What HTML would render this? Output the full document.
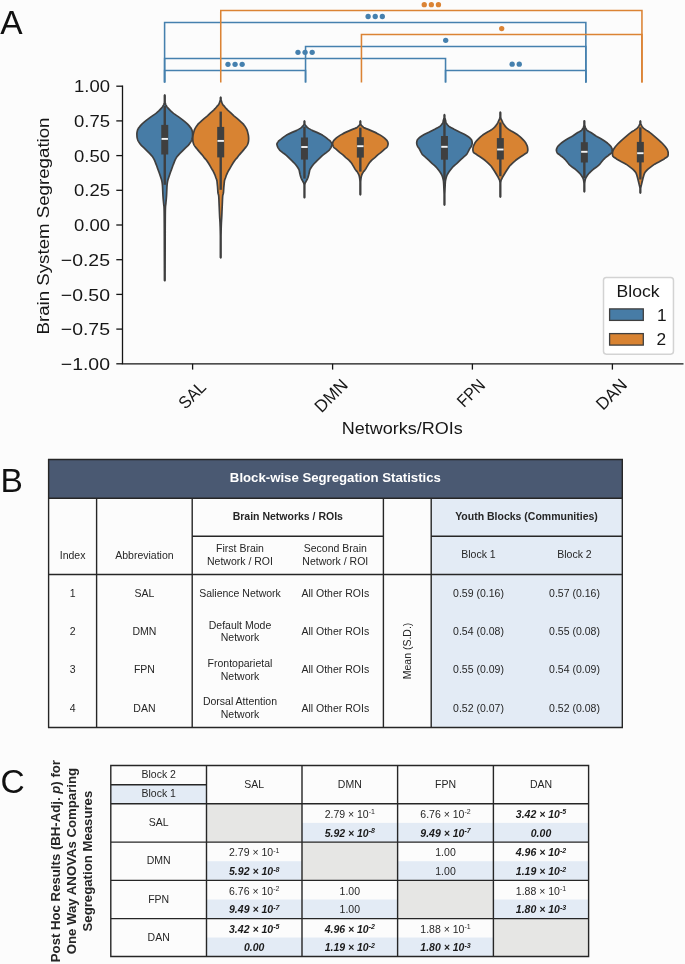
<!DOCTYPE html>
<html><head><meta charset="utf-8"><style>
html,body{margin:0;padding:0;background:#fcfcfc;}
svg{display:block;will-change:transform;}
text{font-family:"Liberation Sans",sans-serif;}
</style></head><body>
<svg width="685" height="964" viewBox="0 0 685 964" font-family="Liberation Sans, sans-serif">
<rect x="0" y="0" width="685" height="964" fill="#fcfcfc"/>
<text x="0.3" y="33.7" font-size="33.5" fill="#111">A</text>
<path d="M164.6,81.6 V22.5 H585.85 V81.6" fill="none" stroke="#4580ae" stroke-width="1.55" stroke-linejoin="miter" stroke-linecap="square"/>
<path d="M305.55,81.6 V46.5 H585.85 V81.6" fill="none" stroke="#4580ae" stroke-width="1.55" stroke-linejoin="miter" stroke-linecap="square"/>
<path d="M164.6,81.6 V58.4 H445.55 V81.6" fill="none" stroke="#4580ae" stroke-width="1.55" stroke-linejoin="miter" stroke-linecap="square"/>
<path d="M164.6,81.6 V70.4 H305.55 V81.6" fill="none" stroke="#4580ae" stroke-width="1.55" stroke-linejoin="miter" stroke-linecap="square"/>
<path d="M445.55,81.6 V70.4 H585.85 V81.6" fill="none" stroke="#4580ae" stroke-width="1.55" stroke-linejoin="miter" stroke-linecap="square"/>
<path d="M220.75,81.6 V10.5 H641.95 V81.6" fill="none" stroke="#db8334" stroke-width="1.55" stroke-linejoin="miter" stroke-linecap="square"/>
<path d="M361.45,81.6 V34.4 H641.95 V81.6" fill="none" stroke="#db8334" stroke-width="1.55" stroke-linejoin="miter" stroke-linecap="square"/>
<circle cx="368.12" cy="16.5" r="2.65" fill="#4580ae"/><circle cx="375.23" cy="16.5" r="2.65" fill="#4580ae"/><circle cx="382.33" cy="16.5" r="2.65" fill="#4580ae"/>
<circle cx="445.70" cy="40.3" r="2.65" fill="#4580ae"/>
<circle cx="297.97" cy="52.3" r="2.65" fill="#4580ae"/><circle cx="305.07" cy="52.3" r="2.65" fill="#4580ae"/><circle cx="312.18" cy="52.3" r="2.65" fill="#4580ae"/>
<circle cx="227.97" cy="64.3" r="2.65" fill="#4580ae"/><circle cx="235.07" cy="64.3" r="2.65" fill="#4580ae"/><circle cx="242.17" cy="64.3" r="2.65" fill="#4580ae"/>
<circle cx="512.15" cy="64.2" r="2.65" fill="#4580ae"/><circle cx="519.25" cy="64.2" r="2.65" fill="#4580ae"/>
<circle cx="424.25" cy="4.7" r="2.65" fill="#db8334"/><circle cx="431.35" cy="4.7" r="2.65" fill="#db8334"/><circle cx="438.45" cy="4.7" r="2.65" fill="#db8334"/>
<circle cx="501.70" cy="28.6" r="2.65" fill="#db8334"/>
<path d="M122.5,85.60000000000001 V364.4 M121.8,363.8 H683.5" fill="none" stroke="#151515" stroke-width="1.3"/>
<path d="M116.3,86.20 H122.5" stroke="#151515" stroke-width="1.3"/>
<text x="110.0" y="92.30" font-size="17.3" text-anchor="end" fill="#161616" textLength="36.0" lengthAdjust="spacingAndGlyphs">1.00</text>
<path d="M116.3,120.90 H122.5" stroke="#151515" stroke-width="1.3"/>
<text x="110.0" y="127.00" font-size="17.3" text-anchor="end" fill="#161616" textLength="36.0" lengthAdjust="spacingAndGlyphs">0.75</text>
<path d="M116.3,155.60 H122.5" stroke="#151515" stroke-width="1.3"/>
<text x="110.0" y="161.70" font-size="17.3" text-anchor="end" fill="#161616" textLength="36.0" lengthAdjust="spacingAndGlyphs">0.50</text>
<path d="M116.3,190.30 H122.5" stroke="#151515" stroke-width="1.3"/>
<text x="110.0" y="196.40" font-size="17.3" text-anchor="end" fill="#161616" textLength="36.0" lengthAdjust="spacingAndGlyphs">0.25</text>
<path d="M116.3,225.00 H122.5" stroke="#151515" stroke-width="1.3"/>
<text x="110.0" y="231.10" font-size="17.3" text-anchor="end" fill="#161616" textLength="36.0" lengthAdjust="spacingAndGlyphs">0.00</text>
<path d="M116.3,259.70 H122.5" stroke="#151515" stroke-width="1.3"/>
<text x="110.0" y="265.80" font-size="17.3" text-anchor="end" fill="#161616" textLength="49.2" lengthAdjust="spacingAndGlyphs">−0.25</text>
<path d="M116.3,294.40 H122.5" stroke="#151515" stroke-width="1.3"/>
<text x="110.0" y="300.50" font-size="17.3" text-anchor="end" fill="#161616" textLength="49.2" lengthAdjust="spacingAndGlyphs">−0.50</text>
<path d="M116.3,329.10 H122.5" stroke="#151515" stroke-width="1.3"/>
<text x="110.0" y="335.20" font-size="17.3" text-anchor="end" fill="#161616" textLength="49.2" lengthAdjust="spacingAndGlyphs">−0.75</text>
<path d="M116.3,363.80 H122.5" stroke="#151515" stroke-width="1.3"/>
<text x="110.0" y="369.90" font-size="17.3" text-anchor="end" fill="#161616" textLength="49.2" lengthAdjust="spacingAndGlyphs">−1.00</text>
<path d="M192.6,363.8 V369.6" stroke="#151515" stroke-width="1.3"/>
<path d="M332.6,363.8 V369.6" stroke="#151515" stroke-width="1.3"/>
<path d="M472.4,363.8 V369.6" stroke="#151515" stroke-width="1.3"/>
<path d="M612.4,363.8 V369.6" stroke="#151515" stroke-width="1.3"/>
<text x="0" y="0" font-size="17.3" text-anchor="middle" fill="#161616" transform="translate(192.1,394.9) rotate(-45) translate(0,5.95)" textLength="30.5" lengthAdjust="spacingAndGlyphs">SAL</text>
<text x="0" y="0" font-size="17.3" text-anchor="middle" fill="#161616" transform="translate(331.05,395.5) rotate(-45) translate(0,5.95)" textLength="38.7" lengthAdjust="spacingAndGlyphs">DMN</text>
<text x="0" y="0" font-size="17.3" text-anchor="middle" fill="#161616" transform="translate(470.85,393.0) rotate(-45) translate(0,5.95)" textLength="31.3" lengthAdjust="spacingAndGlyphs">FPN</text>
<text x="0" y="0" font-size="17.3" text-anchor="middle" fill="#161616" transform="translate(611.4,394.2) rotate(-45) translate(0,5.95)" textLength="35.8" lengthAdjust="spacingAndGlyphs">DAN</text>
<text x="402.2" y="434.4" font-size="17.3" text-anchor="middle" fill="#161616" textLength="121" lengthAdjust="spacingAndGlyphs">Networks/ROIs</text>
<text x="0" y="0" font-size="17.3" text-anchor="middle" fill="#161616" transform="translate(48.6,226.0) rotate(-90)" textLength="217" lengthAdjust="spacingAndGlyphs">Brain System Segregation</text>
<path d="M164.75,94.90 L164.45,95.40 L164.45,95.90 L164.45,96.40 L164.45,96.90 L164.45,97.40 L164.45,97.90 L164.45,98.40 L164.45,98.90 L164.45,99.40 L164.45,99.89 L164.45,100.39 L164.45,100.89 L164.45,101.39 L164.38,101.89 L164.31,102.39 L164.25,102.89 L164.17,103.39 L164.08,103.89 L163.91,104.39 L163.65,104.89 L163.33,105.39 L163.02,105.89 L162.70,106.39 L162.35,106.89 L161.97,107.39 L161.59,107.89 L161.17,108.39 L160.72,108.88 L160.26,109.38 L159.79,109.88 L159.30,110.38 L158.79,110.88 L158.25,111.38 L157.70,111.88 L157.13,112.38 L156.54,112.88 L155.92,113.38 L155.25,113.88 L154.54,114.38 L153.84,114.88 L153.13,115.38 L152.39,115.88 L151.64,116.38 L150.93,116.88 L150.24,117.38 L149.56,117.88 L148.89,118.37 L148.23,118.87 L147.56,119.37 L146.90,119.87 L146.26,120.37 L145.64,120.87 L145.02,121.37 L144.42,121.87 L143.85,122.37 L143.28,122.87 L142.71,123.37 L142.16,123.87 L141.65,124.37 L141.18,124.87 L140.74,125.37 L140.32,125.87 L139.92,126.37 L139.54,126.87 L139.15,127.37 L138.75,127.86 L138.39,128.36 L138.11,128.86 L137.87,129.36 L137.66,129.86 L137.47,130.36 L137.33,130.86 L137.22,131.36 L137.12,131.86 L137.03,132.36 L136.96,132.86 L136.91,133.36 L136.90,133.86 L136.90,134.36 L136.92,134.86 L136.93,135.36 L136.96,135.86 L136.98,136.36 L137.01,136.85 L137.08,137.35 L137.17,137.85 L137.29,138.35 L137.42,138.85 L137.56,139.35 L137.72,139.85 L137.93,140.35 L138.18,140.85 L138.44,141.35 L138.73,141.85 L139.03,142.35 L139.34,142.85 L139.69,143.35 L140.08,143.85 L140.49,144.35 L140.91,144.85 L141.35,145.35 L141.82,145.85 L142.35,146.34 L142.90,146.84 L143.45,147.34 L143.99,147.84 L144.51,148.34 L145.00,148.84 L145.50,149.34 L146.00,149.84 L146.49,150.34 L146.99,150.84 L147.49,151.34 L148.00,151.84 L148.52,152.34 L149.03,152.84 L149.54,153.34 L150.02,153.84 L150.47,154.34 L150.91,154.84 L151.35,155.33 L151.77,155.83 L152.17,156.33 L152.54,156.83 L152.88,157.33 L153.20,157.83 L153.50,158.33 L153.80,158.83 L154.07,159.33 L154.32,159.83 L154.56,160.33 L154.77,160.83 L154.97,161.33 L155.17,161.83 L155.35,162.33 L155.54,162.83 L155.73,163.33 L155.93,163.83 L156.12,164.33 L156.31,164.82 L156.50,165.32 L156.68,165.82 L156.86,166.32 L157.03,166.82 L157.20,167.32 L157.37,167.82 L157.54,168.32 L157.72,168.82 L157.90,169.32 L158.09,169.82 L158.28,170.32 L158.48,170.82 L158.67,171.32 L158.85,171.82 L159.03,172.32 L159.20,172.82 L159.38,173.32 L159.55,173.82 L159.72,174.31 L159.88,174.81 L160.05,175.31 L160.22,175.81 L160.39,176.31 L160.56,176.81 L160.72,177.31 L160.88,177.81 L161.05,178.31 L161.22,178.81 L161.39,179.31 L161.54,179.81 L161.68,180.31 L161.80,180.81 L161.91,181.31 L162.01,181.81 L162.10,182.31 L162.18,182.81 L162.25,183.30 L162.31,183.80 L162.36,184.30 L162.40,184.80 L162.44,185.30 L162.48,185.80 L162.51,186.30 L162.55,186.80 L162.57,187.30 L162.60,187.80 L162.62,188.30 L162.65,188.80 L162.67,189.30 L162.69,189.80 L162.71,190.30 L162.74,190.80 L162.76,191.30 L162.78,191.80 L162.80,192.30 L162.82,192.79 L162.85,193.29 L162.87,193.79 L162.90,194.29 L162.92,194.79 L162.95,195.29 L162.98,195.79 L163.02,196.29 L163.05,196.79 L163.09,197.29 L163.12,197.79 L163.16,198.29 L163.20,198.79 L163.24,199.29 L163.29,199.79 L163.33,200.29 L163.38,200.79 L163.43,201.29 L163.47,201.78 L163.52,202.28 L163.57,202.78 L163.62,203.28 L163.68,203.78 L163.74,204.28 L163.80,204.78 L163.86,205.28 L163.91,205.78 L163.96,206.28 L164.01,206.78 L164.04,207.28 L164.06,207.78 L164.08,208.28 L164.10,208.78 L164.12,209.28 L164.13,209.78 L164.15,210.28 L164.16,210.78 L164.17,211.27 L164.18,211.77 L164.19,212.27 L164.19,212.77 L164.20,213.27 L164.20,213.77 L164.21,214.27 L164.21,214.77 L164.22,215.27 L164.22,215.77 L164.23,216.27 L164.23,216.77 L164.24,217.27 L164.24,217.77 L164.24,218.27 L164.25,218.77 L164.25,219.27 L164.25,219.77 L164.26,220.27 L164.26,220.76 L164.26,221.26 L164.27,221.76 L164.27,222.26 L164.27,222.76 L164.28,223.26 L164.28,223.76 L164.28,224.26 L164.29,224.76 L164.29,225.26 L164.29,225.76 L164.29,226.26 L164.30,226.76 L164.30,227.26 L164.30,227.76 L164.30,228.26 L164.31,228.76 L164.31,229.26 L164.31,229.75 L164.31,230.25 L164.32,230.75 L164.32,231.25 L164.32,231.75 L164.32,232.25 L164.32,232.75 L164.32,233.25 L164.33,233.75 L164.33,234.25 L164.33,234.75 L164.33,235.25 L164.33,235.75 L164.33,236.25 L164.34,236.75 L164.34,237.25 L164.34,237.75 L164.34,238.25 L164.34,238.75 L164.34,239.24 L164.34,239.74 L164.34,240.24 L164.35,240.74 L164.35,241.24 L164.35,241.74 L164.35,242.24 L164.35,242.74 L164.35,243.24 L164.35,243.74 L164.35,244.24 L164.36,244.74 L164.36,245.24 L164.36,245.74 L164.36,246.24 L164.36,246.74 L164.36,247.24 L164.36,247.74 L164.36,248.23 L164.37,248.73 L164.37,249.23 L164.37,249.73 L164.37,250.23 L164.37,250.73 L164.37,251.23 L164.37,251.73 L164.37,252.23 L164.38,252.73 L164.38,253.23 L164.38,253.73 L164.38,254.23 L164.38,254.73 L164.38,255.23 L164.38,255.73 L164.39,256.23 L164.39,256.73 L164.39,257.23 L164.39,257.72 L164.39,258.22 L164.40,258.72 L164.40,259.22 L164.40,259.72 L164.40,260.22 L164.40,260.72 L164.40,261.22 L164.41,261.72 L164.41,262.22 L164.41,262.72 L164.41,263.22 L164.41,263.72 L164.41,264.22 L164.41,264.72 L164.42,265.22 L164.42,265.72 L164.42,266.22 L164.42,266.72 L164.42,267.21 L164.42,267.71 L164.42,268.21 L164.43,268.71 L164.43,269.21 L164.43,269.71 L164.43,270.21 L164.43,270.71 L164.44,271.21 L164.44,271.71 L164.44,272.21 L164.45,272.71 L164.45,273.21 L164.45,273.71 L164.45,274.21 L164.45,274.71 L164.45,275.21 L164.45,275.71 L164.45,276.20 L164.45,276.70 L164.45,277.20 L164.45,277.70 L164.45,278.20 L164.45,278.70 L164.45,279.20 L164.45,279.70 L164.45,280.20 L164.75,280.70 L164.75,280.70 L165.05,280.20 L165.05,279.70 L165.05,279.20 L165.05,278.70 L165.05,278.20 L165.05,277.70 L165.05,277.20 L165.05,276.70 L165.05,276.20 L165.05,275.71 L165.05,275.21 L165.05,274.71 L165.05,274.21 L165.05,273.71 L165.05,273.21 L165.05,272.71 L165.06,272.21 L165.06,271.71 L165.06,271.21 L165.07,270.71 L165.07,270.21 L165.07,269.71 L165.07,269.21 L165.07,268.71 L165.08,268.21 L165.08,267.71 L165.08,267.21 L165.08,266.72 L165.08,266.22 L165.08,265.72 L165.08,265.22 L165.09,264.72 L165.09,264.22 L165.09,263.72 L165.09,263.22 L165.09,262.72 L165.09,262.22 L165.09,261.72 L165.10,261.22 L165.10,260.72 L165.10,260.22 L165.10,259.72 L165.10,259.22 L165.10,258.72 L165.11,258.22 L165.11,257.72 L165.11,257.23 L165.11,256.73 L165.11,256.23 L165.12,255.73 L165.12,255.23 L165.12,254.73 L165.12,254.23 L165.12,253.73 L165.12,253.23 L165.12,252.73 L165.13,252.23 L165.13,251.73 L165.13,251.23 L165.13,250.73 L165.13,250.23 L165.13,249.73 L165.13,249.23 L165.13,248.73 L165.14,248.23 L165.14,247.74 L165.14,247.24 L165.14,246.74 L165.14,246.24 L165.14,245.74 L165.14,245.24 L165.14,244.74 L165.15,244.24 L165.15,243.74 L165.15,243.24 L165.15,242.74 L165.15,242.24 L165.15,241.74 L165.15,241.24 L165.15,240.74 L165.16,240.24 L165.16,239.74 L165.16,239.24 L165.16,238.75 L165.16,238.25 L165.16,237.75 L165.16,237.25 L165.16,236.75 L165.17,236.25 L165.17,235.75 L165.17,235.25 L165.17,234.75 L165.17,234.25 L165.17,233.75 L165.18,233.25 L165.18,232.75 L165.18,232.25 L165.18,231.75 L165.18,231.25 L165.18,230.75 L165.19,230.25 L165.19,229.75 L165.19,229.26 L165.19,228.76 L165.20,228.26 L165.20,227.76 L165.20,227.26 L165.20,226.76 L165.21,226.26 L165.21,225.76 L165.21,225.26 L165.21,224.76 L165.22,224.26 L165.22,223.76 L165.22,223.26 L165.23,222.76 L165.23,222.26 L165.23,221.76 L165.24,221.26 L165.24,220.76 L165.24,220.27 L165.25,219.77 L165.25,219.27 L165.25,218.77 L165.26,218.27 L165.26,217.77 L165.26,217.27 L165.27,216.77 L165.27,216.27 L165.28,215.77 L165.28,215.27 L165.29,214.77 L165.29,214.27 L165.30,213.77 L165.30,213.27 L165.31,212.77 L165.31,212.27 L165.32,211.77 L165.33,211.27 L165.34,210.78 L165.35,210.28 L165.37,209.78 L165.38,209.28 L165.40,208.78 L165.42,208.28 L165.44,207.78 L165.46,207.28 L165.49,206.78 L165.54,206.28 L165.59,205.78 L165.64,205.28 L165.70,204.78 L165.76,204.28 L165.82,203.78 L165.88,203.28 L165.93,202.78 L165.98,202.28 L166.03,201.78 L166.07,201.29 L166.12,200.79 L166.17,200.29 L166.21,199.79 L166.26,199.29 L166.30,198.79 L166.34,198.29 L166.38,197.79 L166.41,197.29 L166.45,196.79 L166.48,196.29 L166.52,195.79 L166.55,195.29 L166.58,194.79 L166.60,194.29 L166.63,193.79 L166.65,193.29 L166.68,192.79 L166.70,192.30 L166.72,191.80 L166.74,191.30 L166.76,190.80 L166.79,190.30 L166.81,189.80 L166.83,189.30 L166.85,188.80 L166.88,188.30 L166.90,187.80 L166.93,187.30 L166.95,186.80 L166.99,186.30 L167.02,185.80 L167.06,185.30 L167.10,184.80 L167.14,184.30 L167.19,183.80 L167.25,183.30 L167.32,182.81 L167.40,182.31 L167.49,181.81 L167.59,181.31 L167.70,180.81 L167.82,180.31 L167.96,179.81 L168.11,179.31 L168.28,178.81 L168.45,178.31 L168.62,177.81 L168.78,177.31 L168.94,176.81 L169.11,176.31 L169.28,175.81 L169.45,175.31 L169.62,174.81 L169.78,174.31 L169.95,173.82 L170.12,173.32 L170.30,172.82 L170.47,172.32 L170.65,171.82 L170.83,171.32 L171.02,170.82 L171.22,170.32 L171.41,169.82 L171.60,169.32 L171.78,168.82 L171.96,168.32 L172.13,167.82 L172.30,167.32 L172.47,166.82 L172.64,166.32 L172.82,165.82 L173.00,165.32 L173.19,164.82 L173.38,164.33 L173.57,163.83 L173.77,163.33 L173.96,162.83 L174.15,162.33 L174.33,161.83 L174.53,161.33 L174.73,160.83 L174.94,160.33 L175.18,159.83 L175.43,159.33 L175.70,158.83 L176.00,158.33 L176.30,157.83 L176.62,157.33 L176.96,156.83 L177.33,156.33 L177.73,155.83 L178.15,155.33 L178.59,154.84 L179.03,154.34 L179.48,153.84 L179.96,153.34 L180.47,152.84 L180.98,152.34 L181.50,151.84 L182.01,151.34 L182.51,150.84 L183.01,150.34 L183.50,149.84 L184.00,149.34 L184.50,148.84 L184.99,148.34 L185.51,147.84 L186.05,147.34 L186.60,146.84 L187.15,146.34 L187.68,145.85 L188.15,145.35 L188.59,144.85 L189.01,144.35 L189.42,143.85 L189.81,143.35 L190.16,142.85 L190.47,142.35 L190.77,141.85 L191.06,141.35 L191.32,140.85 L191.57,140.35 L191.78,139.85 L191.94,139.35 L192.08,138.85 L192.21,138.35 L192.33,137.85 L192.42,137.35 L192.49,136.85 L192.52,136.36 L192.54,135.86 L192.57,135.36 L192.58,134.86 L192.60,134.36 L192.60,133.86 L192.59,133.36 L192.54,132.86 L192.47,132.36 L192.38,131.86 L192.28,131.36 L192.17,130.86 L192.03,130.36 L191.84,129.86 L191.63,129.36 L191.39,128.86 L191.11,128.36 L190.75,127.86 L190.35,127.37 L189.96,126.87 L189.58,126.37 L189.18,125.87 L188.76,125.37 L188.32,124.87 L187.85,124.37 L187.34,123.87 L186.79,123.37 L186.22,122.87 L185.65,122.37 L185.08,121.87 L184.48,121.37 L183.86,120.87 L183.24,120.37 L182.60,119.87 L181.94,119.37 L181.27,118.87 L180.61,118.37 L179.94,117.88 L179.26,117.38 L178.57,116.88 L177.86,116.38 L177.11,115.88 L176.37,115.38 L175.66,114.88 L174.96,114.38 L174.25,113.88 L173.58,113.38 L172.96,112.88 L172.37,112.38 L171.80,111.88 L171.25,111.38 L170.71,110.88 L170.20,110.38 L169.71,109.88 L169.24,109.38 L168.78,108.88 L168.33,108.39 L167.91,107.89 L167.53,107.39 L167.15,106.89 L166.80,106.39 L166.48,105.89 L166.17,105.39 L165.85,104.89 L165.59,104.39 L165.42,103.89 L165.33,103.39 L165.25,102.89 L165.19,102.39 L165.12,101.89 L165.05,101.39 L165.05,100.89 L165.05,100.39 L165.05,99.89 L165.05,99.40 L165.05,98.90 L165.05,98.40 L165.05,97.90 L165.05,97.40 L165.05,96.90 L165.05,96.40 L165.05,95.90 L165.05,95.40 L164.75,94.90Z" fill="#477ca6" stroke="#3f3f3f" stroke-width="1.7" stroke-linejoin="round"/>
<path d="M220.70,97.20 L220.40,97.70 L220.40,98.20 L220.40,98.70 L220.40,99.20 L220.40,99.70 L220.36,100.19 L220.16,100.69 L219.96,101.19 L219.78,101.69 L219.61,102.19 L219.45,102.69 L219.27,103.19 L219.06,103.69 L218.84,104.19 L218.52,104.69 L218.14,105.19 L217.69,105.68 L217.22,106.18 L216.75,106.68 L216.32,107.18 L215.90,107.68 L215.47,108.18 L215.04,108.68 L214.59,109.18 L214.14,109.68 L213.65,110.18 L213.12,110.67 L212.57,111.17 L212.00,111.67 L211.42,112.17 L210.85,112.67 L210.31,113.17 L209.79,113.67 L209.27,114.17 L208.75,114.67 L208.23,115.17 L207.70,115.67 L207.14,116.16 L206.54,116.66 L205.92,117.16 L205.29,117.66 L204.67,118.16 L204.08,118.66 L203.50,119.16 L202.94,119.66 L202.38,120.16 L201.83,120.66 L201.29,121.16 L200.77,121.65 L200.22,122.15 L199.66,122.65 L199.10,123.15 L198.56,123.65 L198.06,124.15 L197.63,124.65 L197.24,125.15 L196.87,125.65 L196.53,126.15 L196.20,126.65 L195.90,127.14 L195.61,127.64 L195.32,128.14 L195.05,128.64 L194.79,129.14 L194.55,129.64 L194.35,130.14 L194.18,130.64 L194.03,131.14 L193.89,131.64 L193.76,132.13 L193.64,132.63 L193.52,133.13 L193.40,133.63 L193.28,134.13 L193.16,134.63 L193.06,135.13 L192.98,135.63 L192.92,136.13 L192.87,136.63 L192.83,137.13 L192.79,137.62 L192.76,138.12 L192.75,138.62 L192.76,139.12 L192.78,139.62 L192.81,140.12 L192.85,140.62 L192.90,141.12 L192.96,141.62 L193.05,142.12 L193.19,142.62 L193.36,143.11 L193.55,143.61 L193.74,144.11 L193.95,144.61 L194.19,145.11 L194.46,145.61 L194.76,146.11 L195.08,146.61 L195.46,147.11 L195.90,147.61 L196.35,148.10 L196.77,148.60 L197.16,149.10 L197.57,149.60 L197.99,150.10 L198.40,150.60 L198.82,151.10 L199.24,151.60 L199.68,152.10 L200.12,152.60 L200.56,153.10 L201.00,153.59 L201.42,154.09 L201.84,154.59 L202.23,155.09 L202.62,155.59 L203.01,156.09 L203.40,156.59 L203.79,157.09 L204.20,157.59 L204.63,158.09 L205.06,158.59 L205.48,159.08 L205.89,159.58 L206.29,160.08 L206.65,160.58 L207.00,161.08 L207.35,161.58 L207.68,162.08 L208.01,162.58 L208.34,163.08 L208.66,163.58 L208.98,164.08 L209.29,164.57 L209.60,165.07 L209.90,165.57 L210.19,166.07 L210.49,166.57 L210.77,167.07 L211.05,167.57 L211.32,168.07 L211.60,168.57 L211.89,169.07 L212.18,169.56 L212.49,170.06 L212.80,170.56 L213.10,171.06 L213.38,171.56 L213.64,172.06 L213.88,172.56 L214.11,173.06 L214.34,173.56 L214.56,174.06 L214.76,174.56 L214.96,175.05 L215.14,175.55 L215.31,176.05 L215.48,176.55 L215.64,177.05 L215.81,177.55 L215.98,178.05 L216.18,178.55 L216.38,179.05 L216.58,179.55 L216.75,180.05 L216.88,180.54 L216.97,181.04 L217.03,181.54 L217.08,182.04 L217.13,182.54 L217.17,183.04 L217.21,183.54 L217.26,184.04 L217.31,184.54 L217.37,185.04 L217.42,185.54 L217.47,186.03 L217.52,186.53 L217.56,187.03 L217.60,187.53 L217.64,188.03 L217.67,188.53 L217.70,189.03 L217.73,189.53 L217.77,190.03 L217.80,190.53 L217.83,191.02 L217.86,191.52 L217.89,192.02 L217.94,192.52 L218.01,193.02 L218.13,193.52 L218.27,194.02 L218.41,194.52 L218.55,195.02 L218.65,195.52 L218.70,196.02 L218.75,196.51 L218.78,197.01 L218.82,197.51 L218.85,198.01 L218.87,198.51 L218.90,199.01 L218.92,199.51 L218.94,200.01 L218.96,200.51 L218.98,201.01 L219.00,201.51 L219.02,202.00 L219.04,202.50 L219.06,203.00 L219.08,203.50 L219.11,204.00 L219.13,204.50 L219.15,205.00 L219.17,205.50 L219.19,206.00 L219.21,206.50 L219.24,207.00 L219.26,207.49 L219.28,207.99 L219.30,208.49 L219.32,208.99 L219.34,209.49 L219.36,209.99 L219.38,210.49 L219.41,210.99 L219.43,211.49 L219.45,211.99 L219.47,212.48 L219.49,212.98 L219.51,213.48 L219.53,213.98 L219.56,214.48 L219.58,214.98 L219.60,215.48 L219.63,215.98 L219.65,216.48 L219.68,216.98 L219.70,217.48 L219.73,217.97 L219.76,218.47 L219.80,218.97 L219.83,219.47 L219.86,219.97 L219.89,220.47 L219.92,220.97 L219.95,221.47 L219.98,221.97 L220.01,222.47 L220.03,222.97 L220.05,223.46 L220.07,223.96 L220.09,224.46 L220.11,224.96 L220.13,225.46 L220.15,225.96 L220.17,226.46 L220.19,226.96 L220.20,227.46 L220.22,227.96 L220.23,228.45 L220.25,228.95 L220.26,229.45 L220.27,229.95 L220.29,230.45 L220.30,230.95 L220.31,231.45 L220.32,231.95 L220.33,232.45 L220.34,232.95 L220.35,233.45 L220.36,233.94 L220.37,234.44 L220.38,234.94 L220.39,235.44 L220.39,235.94 L220.40,236.44 L220.40,236.94 L220.40,237.44 L220.40,237.94 L220.40,238.44 L220.40,238.94 L220.40,239.43 L220.40,239.93 L220.40,240.43 L220.40,240.93 L220.40,241.43 L220.40,241.93 L220.40,242.43 L220.40,242.93 L220.40,243.43 L220.40,243.93 L220.40,244.43 L220.40,244.92 L220.40,245.42 L220.40,245.92 L220.40,246.42 L220.40,246.92 L220.40,247.42 L220.40,247.92 L220.40,248.42 L220.40,248.92 L220.40,249.42 L220.40,249.91 L220.40,250.41 L220.40,250.91 L220.40,251.41 L220.40,251.91 L220.40,252.41 L220.40,252.91 L220.40,253.41 L220.40,253.91 L220.40,254.41 L220.40,254.91 L220.40,255.40 L220.40,255.90 L220.40,256.40 L220.40,256.90 L220.40,257.40 L220.70,257.90 L220.70,257.90 L221.00,257.40 L221.00,256.90 L221.00,256.40 L221.00,255.90 L221.00,255.40 L221.00,254.91 L221.00,254.41 L221.00,253.91 L221.00,253.41 L221.00,252.91 L221.00,252.41 L221.00,251.91 L221.00,251.41 L221.00,250.91 L221.00,250.41 L221.00,249.91 L221.00,249.42 L221.00,248.92 L221.00,248.42 L221.00,247.92 L221.00,247.42 L221.00,246.92 L221.00,246.42 L221.00,245.92 L221.00,245.42 L221.00,244.92 L221.00,244.43 L221.00,243.93 L221.00,243.43 L221.00,242.93 L221.00,242.43 L221.00,241.93 L221.00,241.43 L221.00,240.93 L221.00,240.43 L221.00,239.93 L221.00,239.43 L221.00,238.94 L221.00,238.44 L221.00,237.94 L221.00,237.44 L221.00,236.94 L221.00,236.44 L221.01,235.94 L221.01,235.44 L221.02,234.94 L221.03,234.44 L221.04,233.94 L221.05,233.45 L221.06,232.95 L221.07,232.45 L221.08,231.95 L221.09,231.45 L221.10,230.95 L221.11,230.45 L221.13,229.95 L221.14,229.45 L221.15,228.95 L221.17,228.45 L221.18,227.96 L221.20,227.46 L221.21,226.96 L221.23,226.46 L221.25,225.96 L221.27,225.46 L221.29,224.96 L221.31,224.46 L221.33,223.96 L221.35,223.46 L221.37,222.97 L221.39,222.47 L221.42,221.97 L221.45,221.47 L221.48,220.97 L221.51,220.47 L221.54,219.97 L221.57,219.47 L221.60,218.97 L221.64,218.47 L221.67,217.97 L221.70,217.48 L221.72,216.98 L221.75,216.48 L221.77,215.98 L221.80,215.48 L221.82,214.98 L221.84,214.48 L221.87,213.98 L221.89,213.48 L221.91,212.98 L221.93,212.48 L221.95,211.99 L221.97,211.49 L221.99,210.99 L222.02,210.49 L222.04,209.99 L222.06,209.49 L222.08,208.99 L222.10,208.49 L222.12,207.99 L222.14,207.49 L222.16,207.00 L222.19,206.50 L222.21,206.00 L222.23,205.50 L222.25,205.00 L222.27,204.50 L222.29,204.00 L222.32,203.50 L222.34,203.00 L222.36,202.50 L222.38,202.00 L222.40,201.51 L222.42,201.01 L222.44,200.51 L222.46,200.01 L222.48,199.51 L222.50,199.01 L222.53,198.51 L222.55,198.01 L222.58,197.51 L222.62,197.01 L222.65,196.51 L222.70,196.02 L222.75,195.52 L222.85,195.02 L222.99,194.52 L223.13,194.02 L223.27,193.52 L223.39,193.02 L223.46,192.52 L223.51,192.02 L223.54,191.52 L223.57,191.02 L223.60,190.53 L223.63,190.03 L223.67,189.53 L223.70,189.03 L223.73,188.53 L223.76,188.03 L223.80,187.53 L223.84,187.03 L223.88,186.53 L223.93,186.03 L223.98,185.54 L224.03,185.04 L224.09,184.54 L224.14,184.04 L224.19,183.54 L224.23,183.04 L224.27,182.54 L224.32,182.04 L224.37,181.54 L224.43,181.04 L224.52,180.54 L224.65,180.05 L224.82,179.55 L225.02,179.05 L225.22,178.55 L225.42,178.05 L225.59,177.55 L225.76,177.05 L225.92,176.55 L226.09,176.05 L226.26,175.55 L226.44,175.05 L226.64,174.56 L226.84,174.06 L227.06,173.56 L227.29,173.06 L227.52,172.56 L227.76,172.06 L228.02,171.56 L228.30,171.06 L228.60,170.56 L228.91,170.06 L229.22,169.56 L229.51,169.07 L229.80,168.57 L230.08,168.07 L230.35,167.57 L230.63,167.07 L230.91,166.57 L231.21,166.07 L231.50,165.57 L231.80,165.07 L232.11,164.57 L232.42,164.08 L232.74,163.58 L233.06,163.08 L233.39,162.58 L233.72,162.08 L234.05,161.58 L234.40,161.08 L234.75,160.58 L235.11,160.08 L235.51,159.58 L235.92,159.08 L236.34,158.59 L236.77,158.09 L237.20,157.59 L237.61,157.09 L238.00,156.59 L238.39,156.09 L238.78,155.59 L239.17,155.09 L239.56,154.59 L239.98,154.09 L240.40,153.59 L240.84,153.10 L241.28,152.60 L241.72,152.10 L242.16,151.60 L242.58,151.10 L243.00,150.60 L243.41,150.10 L243.83,149.60 L244.24,149.10 L244.63,148.60 L245.05,148.10 L245.50,147.61 L245.94,147.11 L246.32,146.61 L246.64,146.11 L246.94,145.61 L247.21,145.11 L247.45,144.61 L247.66,144.11 L247.85,143.61 L248.04,143.11 L248.21,142.62 L248.35,142.12 L248.44,141.62 L248.50,141.12 L248.55,140.62 L248.59,140.12 L248.62,139.62 L248.64,139.12 L248.65,138.62 L248.64,138.12 L248.61,137.62 L248.57,137.13 L248.53,136.63 L248.48,136.13 L248.42,135.63 L248.34,135.13 L248.24,134.63 L248.12,134.13 L248.00,133.63 L247.88,133.13 L247.76,132.63 L247.64,132.13 L247.51,131.64 L247.37,131.14 L247.22,130.64 L247.05,130.14 L246.85,129.64 L246.61,129.14 L246.35,128.64 L246.08,128.14 L245.79,127.64 L245.50,127.14 L245.20,126.65 L244.87,126.15 L244.53,125.65 L244.16,125.15 L243.77,124.65 L243.34,124.15 L242.84,123.65 L242.30,123.15 L241.74,122.65 L241.18,122.15 L240.63,121.65 L240.11,121.16 L239.57,120.66 L239.02,120.16 L238.46,119.66 L237.90,119.16 L237.32,118.66 L236.73,118.16 L236.11,117.66 L235.48,117.16 L234.86,116.66 L234.26,116.16 L233.70,115.67 L233.17,115.17 L232.65,114.67 L232.13,114.17 L231.61,113.67 L231.09,113.17 L230.55,112.67 L229.98,112.17 L229.40,111.67 L228.83,111.17 L228.28,110.67 L227.75,110.18 L227.26,109.68 L226.81,109.18 L226.36,108.68 L225.93,108.18 L225.50,107.68 L225.08,107.18 L224.65,106.68 L224.18,106.18 L223.71,105.68 L223.26,105.19 L222.88,104.69 L222.56,104.19 L222.34,103.69 L222.13,103.19 L221.95,102.69 L221.79,102.19 L221.62,101.69 L221.44,101.19 L221.24,100.69 L221.04,100.19 L221.00,99.70 L221.00,99.20 L221.00,98.70 L221.00,98.20 L221.00,97.70 L220.70,97.20Z" fill="#d88332" stroke="#3f3f3f" stroke-width="1.7" stroke-linejoin="round"/>
<path d="M304.45,120.90 L304.15,121.40 L304.15,121.90 L304.15,122.40 L304.15,122.89 L304.15,123.39 L304.15,123.89 L303.91,124.39 L303.61,124.89 L303.27,125.39 L302.90,125.89 L302.48,126.39 L302.05,126.88 L301.57,127.38 L300.95,127.88 L300.21,128.38 L299.38,128.88 L298.47,129.38 L297.63,129.88 L296.72,130.38 L295.66,130.87 L294.50,131.37 L293.29,131.87 L292.06,132.37 L291.00,132.87 L289.99,133.37 L288.99,133.87 L288.02,134.36 L287.08,134.86 L286.18,135.36 L285.36,135.86 L284.60,136.36 L283.88,136.86 L283.21,137.36 L282.56,137.86 L281.94,138.35 L281.36,138.85 L280.72,139.35 L280.07,139.85 L279.42,140.35 L278.82,140.85 L278.33,141.35 L278.01,141.85 L277.68,142.34 L277.37,142.84 L277.11,143.34 L276.94,143.84 L276.90,144.34 L276.97,144.84 L277.10,145.34 L277.27,145.84 L277.47,146.33 L277.66,146.83 L277.86,147.33 L278.11,147.83 L278.41,148.33 L278.73,148.83 L279.09,149.33 L279.48,149.82 L279.95,150.32 L280.51,150.82 L281.12,151.32 L281.74,151.82 L282.36,152.32 L282.96,152.82 L283.61,153.32 L284.31,153.81 L285.01,154.31 L285.68,154.81 L286.31,155.31 L286.87,155.81 L287.40,156.31 L287.92,156.81 L288.43,157.31 L288.94,157.80 L289.45,158.30 L289.98,158.80 L290.51,159.30 L291.04,159.80 L291.55,160.30 L292.06,160.80 L292.55,161.29 L293.03,161.79 L293.51,162.29 L293.99,162.79 L294.44,163.29 L294.89,163.79 L295.31,164.29 L295.71,164.79 L296.12,165.28 L296.51,165.78 L296.89,166.28 L297.24,166.78 L297.56,167.28 L297.88,167.78 L298.20,168.28 L298.50,168.78 L298.78,169.27 L299.00,169.77 L299.18,170.27 L299.31,170.77 L299.42,171.27 L299.51,171.77 L299.61,172.27 L299.71,172.76 L299.82,173.26 L299.93,173.76 L300.05,174.26 L300.16,174.76 L300.29,175.26 L300.42,175.76 L300.56,176.26 L300.70,176.75 L300.85,177.25 L301.02,177.75 L301.20,178.25 L301.43,178.75 L301.69,179.25 L301.98,179.75 L302.26,180.25 L302.53,180.74 L302.77,181.24 L303.04,181.74 L303.32,182.24 L303.57,182.74 L303.78,183.24 L303.93,183.74 L304.01,184.24 L304.08,184.73 L304.13,185.23 L304.15,185.73 L304.15,186.23 L304.15,186.73 L304.15,187.23 L304.15,187.73 L304.15,188.22 L304.15,188.72 L304.15,189.22 L304.15,189.72 L304.15,190.22 L304.15,190.72 L304.15,191.22 L304.15,191.72 L304.15,192.21 L304.15,192.71 L304.15,193.21 L304.15,193.71 L304.15,194.21 L304.15,194.71 L304.15,195.21 L304.15,195.71 L304.15,196.20 L304.15,196.70 L304.15,197.20 L304.45,197.70 L304.45,197.70 L304.75,197.20 L304.75,196.70 L304.75,196.20 L304.75,195.71 L304.75,195.21 L304.75,194.71 L304.75,194.21 L304.75,193.71 L304.75,193.21 L304.75,192.71 L304.75,192.21 L304.75,191.72 L304.75,191.22 L304.75,190.72 L304.75,190.22 L304.75,189.72 L304.75,189.22 L304.75,188.72 L304.75,188.22 L304.75,187.73 L304.75,187.23 L304.75,186.73 L304.75,186.23 L304.75,185.73 L304.77,185.23 L304.82,184.73 L304.89,184.24 L304.97,183.74 L305.12,183.24 L305.33,182.74 L305.58,182.24 L305.86,181.74 L306.13,181.24 L306.37,180.74 L306.64,180.25 L306.92,179.75 L307.21,179.25 L307.47,178.75 L307.70,178.25 L307.88,177.75 L308.05,177.25 L308.20,176.75 L308.34,176.26 L308.48,175.76 L308.61,175.26 L308.74,174.76 L308.85,174.26 L308.97,173.76 L309.08,173.26 L309.19,172.76 L309.29,172.27 L309.39,171.77 L309.48,171.27 L309.59,170.77 L309.72,170.27 L309.90,169.77 L310.12,169.27 L310.40,168.78 L310.70,168.28 L311.02,167.78 L311.34,167.28 L311.66,166.78 L312.01,166.28 L312.39,165.78 L312.78,165.28 L313.19,164.79 L313.59,164.29 L314.01,163.79 L314.46,163.29 L314.91,162.79 L315.39,162.29 L315.87,161.79 L316.35,161.29 L316.84,160.80 L317.35,160.30 L317.86,159.80 L318.39,159.30 L318.92,158.80 L319.45,158.30 L319.96,157.80 L320.47,157.31 L320.98,156.81 L321.50,156.31 L322.03,155.81 L322.59,155.31 L323.22,154.81 L323.89,154.31 L324.59,153.81 L325.29,153.32 L325.94,152.82 L326.54,152.32 L327.16,151.82 L327.78,151.32 L328.39,150.82 L328.95,150.32 L329.42,149.82 L329.81,149.33 L330.17,148.83 L330.49,148.33 L330.79,147.83 L331.04,147.33 L331.24,146.83 L331.43,146.33 L331.63,145.84 L331.80,145.34 L331.93,144.84 L332.00,144.34 L331.96,143.84 L331.79,143.34 L331.53,142.84 L331.22,142.34 L330.89,141.85 L330.57,141.35 L330.08,140.85 L329.48,140.35 L328.83,139.85 L328.18,139.35 L327.54,138.85 L326.96,138.35 L326.34,137.86 L325.69,137.36 L325.02,136.86 L324.30,136.36 L323.54,135.86 L322.72,135.36 L321.82,134.86 L320.88,134.36 L319.91,133.87 L318.91,133.37 L317.90,132.87 L316.84,132.37 L315.61,131.87 L314.40,131.37 L313.24,130.87 L312.18,130.38 L311.27,129.88 L310.43,129.38 L309.52,128.88 L308.69,128.38 L307.95,127.88 L307.33,127.38 L306.85,126.88 L306.42,126.39 L306.00,125.89 L305.63,125.39 L305.29,124.89 L304.99,124.39 L304.75,123.89 L304.75,123.39 L304.75,122.89 L304.75,122.40 L304.75,121.90 L304.75,121.40 L304.45,120.90Z" fill="#477ca6" stroke="#3f3f3f" stroke-width="1.7" stroke-linejoin="round"/>
<path d="M360.34,120.90 L360.04,121.40 L360.04,121.90 L360.04,122.40 L360.04,122.90 L360.04,123.40 L360.04,123.90 L359.97,124.40 L359.64,124.89 L359.23,125.39 L358.74,125.89 L358.18,126.39 L357.66,126.89 L357.08,127.39 L356.19,127.89 L355.09,128.39 L353.82,128.89 L352.48,129.39 L351.30,129.89 L350.18,130.39 L349.03,130.89 L347.85,131.39 L346.69,131.89 L345.55,132.38 L344.52,132.88 L343.55,133.38 L342.60,133.88 L341.68,134.38 L340.81,134.88 L339.98,135.38 L339.23,135.88 L338.49,136.38 L337.78,136.88 L337.09,137.38 L336.45,137.88 L335.85,138.38 L335.36,138.88 L334.86,139.38 L334.37,139.87 L333.91,140.37 L333.52,140.87 L333.22,141.37 L333.03,141.87 L332.84,142.37 L332.69,142.87 L332.60,143.37 L332.60,143.87 L332.65,144.37 L332.75,144.87 L332.89,145.37 L333.06,145.87 L333.25,146.37 L333.46,146.86 L333.79,147.36 L334.36,147.86 L335.03,148.36 L335.71,148.86 L336.35,149.36 L336.88,149.86 L337.40,150.36 L337.95,150.86 L338.52,151.36 L339.09,151.86 L339.68,152.36 L340.29,152.86 L340.95,153.36 L341.63,153.86 L342.30,154.35 L342.93,154.85 L343.50,155.35 L344.02,155.85 L344.53,156.35 L345.05,156.85 L345.58,157.35 L346.15,157.85 L346.77,158.35 L347.39,158.85 L348.01,159.35 L348.59,159.85 L349.13,160.35 L349.61,160.85 L350.03,161.35 L350.45,161.84 L350.84,162.34 L351.22,162.84 L351.58,163.34 L351.93,163.84 L352.27,164.34 L352.58,164.84 L352.88,165.34 L353.18,165.84 L353.47,166.34 L353.77,166.84 L354.07,167.34 L354.34,167.84 L354.62,168.34 L354.90,168.84 L355.21,169.33 L355.55,169.83 L355.96,170.33 L356.41,170.83 L356.85,171.33 L357.25,171.83 L357.56,172.33 L357.85,172.83 L358.14,173.33 L358.41,173.83 L358.64,174.33 L358.85,174.83 L359.01,175.33 L359.16,175.83 L359.29,176.32 L359.41,176.82 L359.52,177.32 L359.61,177.82 L359.69,178.32 L359.75,178.82 L359.81,179.32 L359.87,179.82 L359.92,180.32 L359.96,180.82 L359.99,181.32 L360.02,181.82 L360.04,182.32 L360.04,182.82 L360.04,183.32 L360.04,183.81 L360.04,184.31 L360.04,184.81 L360.04,185.31 L360.04,185.81 L360.04,186.31 L360.04,186.81 L360.04,187.31 L360.04,187.81 L360.04,188.31 L360.04,188.81 L360.04,189.31 L360.04,189.81 L360.04,190.31 L360.04,190.81 L360.04,191.30 L360.04,191.80 L360.04,192.30 L360.04,192.80 L360.04,193.30 L360.04,193.80 L360.04,194.30 L360.34,194.80 L360.34,194.80 L360.64,194.30 L360.64,193.80 L360.64,193.30 L360.64,192.80 L360.64,192.30 L360.64,191.80 L360.64,191.30 L360.64,190.81 L360.64,190.31 L360.64,189.81 L360.64,189.31 L360.64,188.81 L360.64,188.31 L360.64,187.81 L360.64,187.31 L360.64,186.81 L360.64,186.31 L360.64,185.81 L360.64,185.31 L360.64,184.81 L360.64,184.31 L360.64,183.81 L360.64,183.32 L360.64,182.82 L360.64,182.32 L360.66,181.82 L360.69,181.32 L360.72,180.82 L360.76,180.32 L360.81,179.82 L360.87,179.32 L360.93,178.82 L360.99,178.32 L361.07,177.82 L361.16,177.32 L361.27,176.82 L361.39,176.32 L361.52,175.83 L361.67,175.33 L361.83,174.83 L362.04,174.33 L362.27,173.83 L362.54,173.33 L362.83,172.83 L363.12,172.33 L363.43,171.83 L363.83,171.33 L364.27,170.83 L364.72,170.33 L365.13,169.83 L365.47,169.33 L365.78,168.84 L366.06,168.34 L366.34,167.84 L366.61,167.34 L366.91,166.84 L367.21,166.34 L367.50,165.84 L367.80,165.34 L368.10,164.84 L368.41,164.34 L368.75,163.84 L369.10,163.34 L369.46,162.84 L369.84,162.34 L370.23,161.84 L370.65,161.35 L371.07,160.85 L371.55,160.35 L372.09,159.85 L372.67,159.35 L373.29,158.85 L373.91,158.35 L374.53,157.85 L375.10,157.35 L375.63,156.85 L376.15,156.35 L376.66,155.85 L377.18,155.35 L377.75,154.85 L378.38,154.35 L379.05,153.86 L379.73,153.36 L380.39,152.86 L381.00,152.36 L381.59,151.86 L382.16,151.36 L382.73,150.86 L383.28,150.36 L383.80,149.86 L384.33,149.36 L384.97,148.86 L385.65,148.36 L386.32,147.86 L386.89,147.36 L387.22,146.86 L387.43,146.37 L387.62,145.87 L387.79,145.37 L387.93,144.87 L388.03,144.37 L388.08,143.87 L388.08,143.37 L387.99,142.87 L387.84,142.37 L387.65,141.87 L387.46,141.37 L387.16,140.87 L386.77,140.37 L386.31,139.87 L385.82,139.38 L385.32,138.88 L384.83,138.38 L384.23,137.88 L383.59,137.38 L382.90,136.88 L382.19,136.38 L381.45,135.88 L380.70,135.38 L379.87,134.88 L379.00,134.38 L378.08,133.88 L377.13,133.38 L376.16,132.88 L375.13,132.38 L373.99,131.89 L372.83,131.39 L371.65,130.89 L370.50,130.39 L369.38,129.89 L368.20,129.39 L366.86,128.89 L365.59,128.39 L364.49,127.89 L363.60,127.39 L363.02,126.89 L362.50,126.39 L361.94,125.89 L361.45,125.39 L361.04,124.89 L360.71,124.40 L360.64,123.90 L360.64,123.40 L360.64,122.90 L360.64,122.40 L360.64,121.90 L360.64,121.40 L360.34,120.90Z" fill="#d88332" stroke="#3f3f3f" stroke-width="1.7" stroke-linejoin="round"/>
<path d="M444.45,114.60 L444.15,115.10 L444.15,115.59 L444.15,116.09 L444.15,116.59 L444.15,117.09 L444.15,117.58 L444.12,118.08 L443.95,118.58 L443.79,119.08 L443.63,119.57 L443.47,120.07 L443.34,120.57 L443.22,121.06 L443.09,121.56 L442.95,122.06 L442.79,122.56 L442.60,123.05 L442.34,123.55 L442.02,124.05 L441.62,124.55 L441.18,125.04 L440.69,125.54 L440.25,126.04 L439.64,126.53 L438.87,127.03 L438.00,127.53 L437.05,128.03 L436.10,128.52 L435.23,129.02 L434.30,129.52 L433.34,130.01 L432.35,130.51 L431.34,131.01 L430.35,131.51 L429.39,132.00 L428.35,132.50 L427.28,133.00 L426.19,133.50 L425.13,133.99 L424.17,134.49 L423.32,134.99 L422.50,135.48 L421.71,135.98 L420.96,136.48 L420.27,136.98 L419.70,137.47 L419.16,137.97 L418.62,138.47 L418.10,138.97 L417.64,139.46 L417.30,139.96 L417.13,140.46 L417.00,140.95 L416.88,141.45 L416.79,141.95 L416.73,142.45 L416.70,142.94 L416.73,143.44 L416.81,143.94 L416.93,144.44 L417.09,144.93 L417.25,145.43 L417.42,145.93 L417.68,146.42 L418.02,146.92 L418.39,147.42 L418.75,147.92 L419.07,148.41 L419.33,148.91 L419.59,149.41 L419.83,149.90 L420.08,150.40 L420.33,150.90 L420.59,151.40 L420.87,151.89 L421.13,152.39 L421.39,152.89 L421.68,153.39 L421.99,153.88 L422.35,154.38 L422.79,154.88 L423.32,155.37 L423.90,155.87 L424.50,156.37 L425.09,156.87 L425.65,157.36 L426.17,157.86 L426.73,158.36 L427.29,158.86 L427.84,159.35 L428.39,159.85 L428.93,160.35 L429.44,160.84 L429.94,161.34 L430.44,161.84 L430.95,162.34 L431.46,162.83 L432.00,163.33 L432.57,163.83 L433.17,164.33 L433.76,164.82 L434.34,165.32 L434.89,165.82 L435.40,166.31 L435.85,166.81 L436.29,167.31 L436.71,167.81 L437.12,168.30 L437.52,168.80 L437.92,169.30 L438.32,169.80 L438.72,170.29 L439.10,170.79 L439.48,171.29 L439.83,171.78 L440.17,172.28 L440.49,172.78 L440.81,173.28 L441.11,173.77 L441.40,174.27 L441.66,174.77 L441.88,175.26 L442.08,175.76 L442.27,176.26 L442.45,176.76 L442.61,177.25 L442.76,177.75 L442.89,178.25 L443.01,178.75 L443.13,179.24 L443.24,179.74 L443.34,180.24 L443.42,180.73 L443.49,181.23 L443.53,181.73 L443.58,182.23 L443.61,182.72 L443.65,183.22 L443.68,183.72 L443.71,184.22 L443.73,184.71 L443.76,185.21 L443.78,185.71 L443.80,186.20 L443.83,186.70 L443.85,187.20 L443.88,187.70 L443.90,188.19 L443.92,188.69 L443.94,189.19 L443.96,189.69 L443.98,190.18 L444.00,190.68 L444.02,191.18 L444.04,191.67 L444.06,192.17 L444.09,192.67 L444.11,193.17 L444.13,193.66 L444.15,194.16 L444.15,194.66 L444.15,195.15 L444.15,195.65 L444.15,196.15 L444.15,196.65 L444.15,197.14 L444.15,197.64 L444.15,198.14 L444.15,198.64 L444.15,199.13 L444.15,199.63 L444.15,200.13 L444.15,200.62 L444.15,201.12 L444.15,201.62 L444.15,202.12 L444.15,202.61 L444.15,203.11 L444.15,203.61 L444.15,204.11 L444.15,204.60 L444.45,205.10 L444.45,205.10 L444.75,204.60 L444.75,204.11 L444.75,203.61 L444.75,203.11 L444.75,202.61 L444.75,202.12 L444.75,201.62 L444.75,201.12 L444.75,200.62 L444.75,200.13 L444.75,199.63 L444.75,199.13 L444.75,198.64 L444.75,198.14 L444.75,197.64 L444.75,197.14 L444.75,196.65 L444.75,196.15 L444.75,195.65 L444.75,195.15 L444.75,194.66 L444.75,194.16 L444.77,193.66 L444.79,193.17 L444.81,192.67 L444.84,192.17 L444.86,191.67 L444.88,191.18 L444.90,190.68 L444.92,190.18 L444.94,189.69 L444.96,189.19 L444.98,188.69 L445.00,188.19 L445.02,187.70 L445.05,187.20 L445.07,186.70 L445.10,186.20 L445.12,185.71 L445.14,185.21 L445.17,184.71 L445.19,184.22 L445.22,183.72 L445.25,183.22 L445.29,182.72 L445.32,182.23 L445.37,181.73 L445.41,181.23 L445.48,180.73 L445.56,180.24 L445.66,179.74 L445.77,179.24 L445.89,178.75 L446.01,178.25 L446.14,177.75 L446.29,177.25 L446.45,176.76 L446.63,176.26 L446.82,175.76 L447.02,175.26 L447.24,174.77 L447.50,174.27 L447.79,173.77 L448.09,173.28 L448.41,172.78 L448.73,172.28 L449.07,171.78 L449.42,171.29 L449.80,170.79 L450.18,170.29 L450.58,169.80 L450.98,169.30 L451.38,168.80 L451.78,168.30 L452.19,167.81 L452.61,167.31 L453.05,166.81 L453.50,166.31 L454.01,165.82 L454.56,165.32 L455.14,164.82 L455.73,164.33 L456.33,163.83 L456.90,163.33 L457.44,162.83 L457.95,162.34 L458.46,161.84 L458.96,161.34 L459.46,160.84 L459.97,160.35 L460.51,159.85 L461.06,159.35 L461.61,158.86 L462.17,158.36 L462.73,157.86 L463.25,157.36 L463.81,156.87 L464.40,156.37 L465.00,155.87 L465.58,155.37 L466.11,154.88 L466.55,154.38 L466.91,153.88 L467.22,153.39 L467.51,152.89 L467.77,152.39 L468.03,151.89 L468.31,151.40 L468.57,150.90 L468.82,150.40 L469.07,149.90 L469.31,149.41 L469.57,148.91 L469.83,148.41 L470.15,147.92 L470.51,147.42 L470.88,146.92 L471.22,146.42 L471.48,145.93 L471.65,145.43 L471.81,144.93 L471.97,144.44 L472.09,143.94 L472.17,143.44 L472.20,142.94 L472.17,142.45 L472.11,141.95 L472.02,141.45 L471.90,140.95 L471.77,140.46 L471.60,139.96 L471.26,139.46 L470.80,138.97 L470.28,138.47 L469.74,137.97 L469.20,137.47 L468.63,136.98 L467.94,136.48 L467.19,135.98 L466.40,135.48 L465.58,134.99 L464.73,134.49 L463.77,133.99 L462.71,133.50 L461.62,133.00 L460.55,132.50 L459.51,132.00 L458.55,131.51 L457.56,131.01 L456.55,130.51 L455.56,130.01 L454.60,129.52 L453.67,129.02 L452.80,128.52 L451.85,128.03 L450.90,127.53 L450.03,127.03 L449.26,126.53 L448.65,126.04 L448.21,125.54 L447.72,125.04 L447.28,124.55 L446.88,124.05 L446.56,123.55 L446.30,123.05 L446.11,122.56 L445.95,122.06 L445.81,121.56 L445.68,121.06 L445.56,120.57 L445.43,120.07 L445.27,119.57 L445.11,119.08 L444.95,118.58 L444.78,118.08 L444.75,117.58 L444.75,117.09 L444.75,116.59 L444.75,116.09 L444.75,115.59 L444.75,115.10 L444.45,114.60Z" fill="#477ca6" stroke="#3f3f3f" stroke-width="1.7" stroke-linejoin="round"/>
<path d="M500.34,112.10 L500.04,112.60 L500.04,113.10 L500.04,113.60 L500.04,114.10 L500.04,114.60 L500.04,115.10 L500.04,115.60 L500.04,116.10 L500.04,116.59 L500.04,117.09 L499.96,117.59 L499.81,118.09 L499.64,118.59 L499.44,119.09 L499.23,119.59 L499.01,120.09 L498.78,120.59 L498.55,121.09 L498.32,121.59 L498.08,122.09 L497.84,122.59 L497.57,123.09 L497.29,123.59 L496.99,124.09 L496.66,124.59 L496.29,125.08 L495.91,125.58 L495.49,126.08 L495.06,126.58 L494.60,127.08 L494.09,127.58 L493.54,128.08 L492.95,128.58 L492.32,129.08 L491.70,129.58 L491.04,130.08 L490.26,130.58 L489.40,131.08 L488.48,131.58 L487.56,132.08 L486.71,132.58 L485.90,133.08 L485.08,133.57 L484.27,134.07 L483.47,134.57 L482.71,135.07 L482.02,135.57 L481.38,136.07 L480.78,136.57 L480.22,137.07 L479.68,137.57 L479.17,138.07 L478.67,138.57 L478.17,139.07 L477.68,139.57 L477.21,140.07 L476.77,140.57 L476.35,141.07 L475.97,141.57 L475.61,142.06 L475.26,142.56 L474.93,143.06 L474.62,143.56 L474.35,144.06 L474.11,144.56 L473.87,145.06 L473.65,145.56 L473.45,146.06 L473.28,146.56 L473.18,147.06 L473.10,147.56 L473.02,148.06 L472.96,148.56 L472.92,149.06 L472.89,149.56 L472.90,150.06 L472.95,150.55 L473.06,151.05 L473.19,151.55 L473.35,152.05 L473.65,152.55 L474.29,153.05 L475.06,153.55 L475.87,154.05 L476.64,154.55 L477.29,155.05 L478.00,155.55 L478.79,156.05 L479.58,156.55 L480.37,157.05 L481.12,157.55 L481.82,158.05 L482.52,158.55 L483.23,159.04 L483.92,159.54 L484.59,160.04 L485.23,160.54 L485.84,161.04 L486.43,161.54 L487.00,162.04 L487.56,162.54 L488.09,163.04 L488.61,163.54 L489.13,164.04 L489.63,164.54 L490.12,165.04 L490.57,165.54 L491.00,166.04 L491.38,166.54 L491.74,167.04 L492.07,167.53 L492.40,168.03 L492.72,168.53 L493.05,169.03 L493.39,169.53 L493.72,170.03 L494.05,170.53 L494.38,171.03 L494.70,171.53 L495.01,172.03 L495.32,172.53 L495.62,173.03 L495.92,173.53 L496.22,174.03 L496.51,174.53 L496.81,175.03 L497.11,175.53 L497.42,176.02 L497.73,176.52 L498.03,177.02 L498.31,177.52 L498.56,178.02 L498.80,178.52 L499.05,179.02 L499.28,179.52 L499.49,180.02 L499.66,180.52 L499.77,181.02 L499.86,181.52 L499.94,182.02 L500.01,182.52 L500.04,183.02 L500.04,183.52 L500.04,184.02 L500.04,184.51 L500.04,185.01 L500.04,185.51 L500.04,186.01 L500.04,186.51 L500.04,187.01 L500.04,187.51 L500.04,188.01 L500.04,188.51 L500.04,189.01 L500.04,189.51 L500.04,190.01 L500.04,190.51 L500.04,191.01 L500.04,191.51 L500.04,192.01 L500.04,192.51 L500.04,193.00 L500.04,193.50 L500.04,194.00 L500.04,194.50 L500.04,195.00 L500.04,195.50 L500.04,196.00 L500.04,196.50 L500.34,197.00 L500.34,197.00 L500.64,196.50 L500.64,196.00 L500.64,195.50 L500.64,195.00 L500.64,194.50 L500.64,194.00 L500.64,193.50 L500.64,193.00 L500.64,192.51 L500.64,192.01 L500.64,191.51 L500.64,191.01 L500.64,190.51 L500.64,190.01 L500.64,189.51 L500.64,189.01 L500.64,188.51 L500.64,188.01 L500.64,187.51 L500.64,187.01 L500.64,186.51 L500.64,186.01 L500.64,185.51 L500.64,185.01 L500.64,184.51 L500.64,184.02 L500.64,183.52 L500.64,183.02 L500.67,182.52 L500.74,182.02 L500.82,181.52 L500.91,181.02 L501.02,180.52 L501.19,180.02 L501.40,179.52 L501.63,179.02 L501.88,178.52 L502.12,178.02 L502.37,177.52 L502.65,177.02 L502.95,176.52 L503.26,176.02 L503.57,175.53 L503.87,175.03 L504.17,174.53 L504.46,174.03 L504.76,173.53 L505.06,173.03 L505.36,172.53 L505.67,172.03 L505.98,171.53 L506.30,171.03 L506.63,170.53 L506.96,170.03 L507.29,169.53 L507.63,169.03 L507.96,168.53 L508.28,168.03 L508.61,167.53 L508.94,167.04 L509.30,166.54 L509.68,166.04 L510.11,165.54 L510.56,165.04 L511.05,164.54 L511.55,164.04 L512.07,163.54 L512.59,163.04 L513.12,162.54 L513.68,162.04 L514.25,161.54 L514.84,161.04 L515.45,160.54 L516.09,160.04 L516.76,159.54 L517.45,159.04 L518.16,158.55 L518.86,158.05 L519.56,157.55 L520.31,157.05 L521.10,156.55 L521.89,156.05 L522.68,155.55 L523.39,155.05 L524.04,154.55 L524.81,154.05 L525.62,153.55 L526.39,153.05 L527.03,152.55 L527.33,152.05 L527.49,151.55 L527.62,151.05 L527.73,150.55 L527.78,150.06 L527.79,149.56 L527.76,149.06 L527.72,148.56 L527.66,148.06 L527.58,147.56 L527.50,147.06 L527.40,146.56 L527.23,146.06 L527.03,145.56 L526.81,145.06 L526.57,144.56 L526.33,144.06 L526.06,143.56 L525.75,143.06 L525.42,142.56 L525.07,142.06 L524.71,141.57 L524.33,141.07 L523.91,140.57 L523.47,140.07 L523.00,139.57 L522.51,139.07 L522.01,138.57 L521.51,138.07 L521.00,137.57 L520.46,137.07 L519.90,136.57 L519.30,136.07 L518.66,135.57 L517.97,135.07 L517.21,134.57 L516.41,134.07 L515.60,133.57 L514.78,133.08 L513.97,132.58 L513.12,132.08 L512.20,131.58 L511.28,131.08 L510.42,130.58 L509.64,130.08 L508.98,129.58 L508.36,129.08 L507.73,128.58 L507.14,128.08 L506.59,127.58 L506.08,127.08 L505.62,126.58 L505.19,126.08 L504.77,125.58 L504.39,125.08 L504.02,124.59 L503.69,124.09 L503.39,123.59 L503.11,123.09 L502.84,122.59 L502.60,122.09 L502.36,121.59 L502.13,121.09 L501.90,120.59 L501.67,120.09 L501.45,119.59 L501.24,119.09 L501.04,118.59 L500.87,118.09 L500.72,117.59 L500.64,117.09 L500.64,116.59 L500.64,116.10 L500.64,115.60 L500.64,115.10 L500.64,114.60 L500.64,114.10 L500.64,113.60 L500.64,113.10 L500.64,112.60 L500.34,112.10Z" fill="#d88332" stroke="#3f3f3f" stroke-width="1.7" stroke-linejoin="round"/>
<path d="M584.34,120.80 L584.04,121.30 L584.04,121.80 L584.04,122.30 L584.04,122.80 L584.04,123.30 L584.04,123.80 L584.04,124.30 L584.04,124.80 L584.04,125.30 L584.00,125.80 L583.81,126.30 L583.62,126.80 L583.42,127.30 L583.19,127.80 L582.93,128.30 L582.64,128.80 L582.30,129.30 L581.99,129.80 L581.60,130.30 L580.98,130.80 L580.18,131.30 L579.26,131.80 L578.28,132.30 L577.41,132.80 L576.65,133.30 L575.92,133.80 L575.21,134.30 L574.51,134.80 L573.80,135.30 L573.06,135.80 L572.24,136.30 L571.36,136.80 L570.43,137.30 L569.49,137.80 L568.55,138.30 L567.70,138.80 L566.88,139.30 L566.07,139.80 L565.29,140.30 L564.52,140.80 L563.78,141.30 L563.09,141.80 L562.40,142.30 L561.71,142.80 L561.04,143.30 L560.40,143.80 L559.83,144.30 L559.33,144.80 L558.84,145.30 L558.37,145.80 L557.94,146.30 L557.56,146.80 L557.28,147.30 L557.05,147.80 L556.83,148.30 L556.64,148.80 L556.48,149.30 L556.40,149.80 L556.40,150.30 L556.48,150.80 L556.60,151.30 L556.77,151.80 L556.96,152.30 L557.18,152.80 L557.53,153.30 L558.13,153.80 L558.82,154.30 L559.52,154.80 L560.19,155.30 L560.76,155.80 L561.41,156.30 L562.12,156.80 L562.80,157.30 L563.44,157.80 L564.01,158.30 L564.47,158.80 L564.93,159.30 L565.36,159.80 L565.78,160.30 L566.19,160.80 L566.61,161.30 L567.04,161.80 L567.43,162.30 L567.81,162.80 L568.21,163.30 L568.64,163.80 L569.10,164.30 L569.62,164.80 L570.16,165.30 L570.73,165.80 L571.31,166.30 L571.91,166.80 L572.53,167.30 L573.20,167.80 L573.93,168.30 L574.66,168.80 L575.36,169.30 L576.00,169.80 L576.56,170.30 L577.12,170.80 L577.67,171.30 L578.19,171.80 L578.69,172.30 L579.16,172.80 L579.60,173.30 L580.03,173.80 L580.44,174.30 L580.83,174.80 L581.20,175.30 L581.54,175.80 L581.85,176.30 L582.18,176.80 L582.50,177.30 L582.78,177.80 L583.02,178.30 L583.22,178.80 L583.36,179.30 L583.49,179.80 L583.60,180.30 L583.70,180.80 L583.79,181.30 L583.86,181.80 L583.92,182.30 L583.97,182.80 L584.02,183.30 L584.04,183.80 L584.04,184.30 L584.04,184.80 L584.04,185.30 L584.04,185.80 L584.04,186.30 L584.04,186.80 L584.04,187.30 L584.04,187.80 L584.04,188.30 L584.04,188.80 L584.04,189.30 L584.04,189.80 L584.04,190.30 L584.04,190.80 L584.04,191.30 L584.34,191.80 L584.34,191.80 L584.64,191.30 L584.64,190.80 L584.64,190.30 L584.64,189.80 L584.64,189.30 L584.64,188.80 L584.64,188.30 L584.64,187.80 L584.64,187.30 L584.64,186.80 L584.64,186.30 L584.64,185.80 L584.64,185.30 L584.64,184.80 L584.64,184.30 L584.64,183.80 L584.66,183.30 L584.71,182.80 L584.76,182.30 L584.82,181.80 L584.89,181.30 L584.98,180.80 L585.08,180.30 L585.19,179.80 L585.32,179.30 L585.46,178.80 L585.66,178.30 L585.90,177.80 L586.18,177.30 L586.50,176.80 L586.83,176.30 L587.14,175.80 L587.48,175.30 L587.85,174.80 L588.24,174.30 L588.65,173.80 L589.08,173.30 L589.52,172.80 L589.99,172.30 L590.49,171.80 L591.01,171.30 L591.56,170.80 L592.12,170.30 L592.68,169.80 L593.32,169.30 L594.02,168.80 L594.75,168.30 L595.48,167.80 L596.15,167.30 L596.77,166.80 L597.37,166.30 L597.95,165.80 L598.52,165.30 L599.06,164.80 L599.58,164.30 L600.04,163.80 L600.47,163.30 L600.87,162.80 L601.25,162.30 L601.64,161.80 L602.07,161.30 L602.49,160.80 L602.90,160.30 L603.32,159.80 L603.75,159.30 L604.21,158.80 L604.67,158.30 L605.24,157.80 L605.88,157.30 L606.56,156.80 L607.27,156.30 L607.92,155.80 L608.49,155.30 L609.16,154.80 L609.86,154.30 L610.55,153.80 L611.15,153.30 L611.50,152.80 L611.72,152.30 L611.91,151.80 L612.08,151.30 L612.20,150.80 L612.28,150.30 L612.28,149.80 L612.20,149.30 L612.04,148.80 L611.85,148.30 L611.63,147.80 L611.40,147.30 L611.12,146.80 L610.74,146.30 L610.31,145.80 L609.84,145.30 L609.35,144.80 L608.85,144.30 L608.28,143.80 L607.64,143.30 L606.97,142.80 L606.28,142.30 L605.59,141.80 L604.90,141.30 L604.16,140.80 L603.39,140.30 L602.61,139.80 L601.80,139.30 L600.98,138.80 L600.13,138.30 L599.19,137.80 L598.25,137.30 L597.32,136.80 L596.44,136.30 L595.62,135.80 L594.88,135.30 L594.17,134.80 L593.47,134.30 L592.76,133.80 L592.03,133.30 L591.27,132.80 L590.40,132.30 L589.42,131.80 L588.50,131.30 L587.70,130.80 L587.08,130.30 L586.69,129.80 L586.38,129.30 L586.04,128.80 L585.75,128.30 L585.49,127.80 L585.26,127.30 L585.06,126.80 L584.87,126.30 L584.68,125.80 L584.64,125.30 L584.64,124.80 L584.64,124.30 L584.64,123.80 L584.64,123.30 L584.64,122.80 L584.64,122.30 L584.64,121.80 L584.64,121.30 L584.34,120.80Z" fill="#477ca6" stroke="#3f3f3f" stroke-width="1.7" stroke-linejoin="round"/>
<path d="M640.34,120.90 L640.04,121.40 L640.04,121.89 L640.04,122.39 L640.04,122.89 L640.04,123.39 L639.95,123.88 L639.70,124.38 L639.45,124.88 L639.20,125.38 L638.93,125.87 L638.64,126.37 L638.33,126.87 L637.97,127.36 L637.48,127.86 L636.90,128.36 L636.24,128.86 L635.53,129.35 L634.87,129.85 L634.20,130.35 L633.47,130.84 L632.69,131.34 L631.90,131.84 L631.11,132.34 L630.39,132.83 L629.73,133.33 L629.10,133.83 L628.50,134.33 L627.92,134.82 L627.35,135.32 L626.76,135.82 L626.17,136.31 L625.58,136.81 L625.00,137.31 L624.41,137.81 L623.84,138.30 L623.27,138.80 L622.70,139.30 L622.14,139.80 L621.57,140.29 L621.02,140.79 L620.47,141.29 L619.95,141.78 L619.44,142.28 L618.94,142.78 L618.46,143.28 L617.98,143.77 L617.52,144.27 L617.07,144.77 L616.62,145.26 L616.18,145.76 L615.75,146.26 L615.34,146.76 L614.97,147.25 L614.62,147.75 L614.27,148.25 L613.93,148.75 L613.62,149.24 L613.35,149.74 L613.16,150.24 L612.99,150.73 L612.83,151.23 L612.68,151.73 L612.57,152.23 L612.50,152.72 L612.49,153.22 L612.50,153.72 L612.53,154.22 L612.57,154.71 L612.61,155.21 L612.67,155.71 L612.86,156.20 L613.40,156.70 L614.10,157.20 L614.85,157.70 L615.58,158.19 L616.21,158.69 L616.97,159.19 L617.85,159.68 L618.75,160.18 L619.66,160.68 L620.55,161.18 L621.40,161.67 L622.37,162.17 L623.35,162.67 L624.30,163.17 L625.20,163.66 L626.01,164.16 L626.72,164.66 L627.43,165.15 L628.11,165.65 L628.78,166.15 L629.43,166.65 L630.08,167.14 L630.74,167.64 L631.41,168.14 L632.05,168.64 L632.66,169.13 L633.21,169.63 L633.70,170.13 L634.16,170.62 L634.64,171.12 L635.08,171.62 L635.48,172.12 L635.81,172.61 L636.07,173.11 L636.27,173.61 L636.46,174.10 L636.62,174.60 L636.77,175.10 L636.92,175.60 L637.06,176.09 L637.21,176.59 L637.36,177.09 L637.49,177.59 L637.63,178.08 L637.76,178.58 L637.89,179.08 L638.01,179.57 L638.13,180.07 L638.25,180.57 L638.37,181.07 L638.49,181.56 L638.60,182.06 L638.73,182.56 L638.85,183.06 L638.97,183.55 L639.09,184.05 L639.21,184.55 L639.32,185.04 L639.45,185.54 L639.58,186.04 L639.70,186.54 L639.81,187.03 L639.92,187.53 L640.01,188.03 L640.04,188.52 L640.04,189.02 L640.04,189.52 L640.04,190.02 L640.04,190.51 L640.04,191.01 L640.04,191.51 L640.04,192.01 L640.04,192.50 L640.34,193.00 L640.34,193.00 L640.64,192.50 L640.64,192.01 L640.64,191.51 L640.64,191.01 L640.64,190.51 L640.64,190.02 L640.64,189.52 L640.64,189.02 L640.64,188.52 L640.67,188.03 L640.76,187.53 L640.87,187.03 L640.98,186.54 L641.10,186.04 L641.23,185.54 L641.36,185.04 L641.47,184.55 L641.59,184.05 L641.71,183.55 L641.83,183.06 L641.95,182.56 L642.08,182.06 L642.19,181.56 L642.31,181.07 L642.43,180.57 L642.55,180.07 L642.67,179.57 L642.79,179.08 L642.92,178.58 L643.05,178.08 L643.19,177.59 L643.32,177.09 L643.47,176.59 L643.62,176.09 L643.76,175.60 L643.91,175.10 L644.06,174.60 L644.22,174.10 L644.41,173.61 L644.61,173.11 L644.87,172.61 L645.20,172.12 L645.60,171.62 L646.04,171.12 L646.52,170.62 L646.98,170.13 L647.47,169.63 L648.02,169.13 L648.63,168.64 L649.27,168.14 L649.94,167.64 L650.60,167.14 L651.25,166.65 L651.90,166.15 L652.57,165.65 L653.25,165.15 L653.96,164.66 L654.67,164.16 L655.48,163.66 L656.38,163.17 L657.33,162.67 L658.31,162.17 L659.28,161.67 L660.13,161.18 L661.02,160.68 L661.93,160.18 L662.83,159.68 L663.71,159.19 L664.47,158.69 L665.10,158.19 L665.83,157.70 L666.58,157.20 L667.28,156.70 L667.82,156.20 L668.01,155.71 L668.07,155.21 L668.11,154.71 L668.15,154.22 L668.18,153.72 L668.19,153.22 L668.18,152.72 L668.11,152.23 L668.00,151.73 L667.85,151.23 L667.69,150.73 L667.52,150.24 L667.33,149.74 L667.06,149.24 L666.75,148.75 L666.41,148.25 L666.06,147.75 L665.71,147.25 L665.34,146.76 L664.93,146.26 L664.50,145.76 L664.06,145.26 L663.61,144.77 L663.16,144.27 L662.70,143.77 L662.22,143.28 L661.74,142.78 L661.24,142.28 L660.73,141.78 L660.21,141.29 L659.66,140.79 L659.11,140.29 L658.54,139.80 L657.98,139.30 L657.41,138.80 L656.84,138.30 L656.27,137.81 L655.68,137.31 L655.10,136.81 L654.51,136.31 L653.92,135.82 L653.33,135.32 L652.76,134.82 L652.18,134.33 L651.58,133.83 L650.95,133.33 L650.29,132.83 L649.57,132.34 L648.78,131.84 L647.99,131.34 L647.21,130.84 L646.48,130.35 L645.81,129.85 L645.15,129.35 L644.44,128.86 L643.78,128.36 L643.20,127.86 L642.71,127.36 L642.35,126.87 L642.04,126.37 L641.75,125.87 L641.48,125.38 L641.23,124.88 L640.98,124.38 L640.73,123.88 L640.64,123.39 L640.64,122.89 L640.64,122.39 L640.64,121.89 L640.64,121.40 L640.34,120.90Z" fill="#d88332" stroke="#3f3f3f" stroke-width="1.7" stroke-linejoin="round"/>
<path d="M164.75,105.8 V184.8" stroke="#3f3f3f" stroke-width="2.4"/>
<rect x="161.25" y="124.9" width="7.0" height="29.60" fill="#3f3f3f"/>
<path d="M161.55,138.9 H167.95" stroke="#f4f4f4" stroke-width="1.9"/>
<path d="M220.7,111.6 V189.8" stroke="#3f3f3f" stroke-width="2.4"/>
<rect x="217.20" y="126.9" width="7.0" height="30.50" fill="#3f3f3f"/>
<path d="M217.50,140.9 H223.90" stroke="#f4f4f4" stroke-width="1.9"/>
<path d="M304.45,126.7 V178.6" stroke="#3f3f3f" stroke-width="2.4"/>
<rect x="300.95" y="137.5" width="7.0" height="22.10" fill="#3f3f3f"/>
<path d="M301.25,147.0 H307.65" stroke="#f4f4f4" stroke-width="1.9"/>
<path d="M360.34,127.6 V171.6" stroke="#3f3f3f" stroke-width="2.4"/>
<rect x="356.84" y="137.2" width="7.0" height="20.40" fill="#3f3f3f"/>
<path d="M357.14,146.2 H363.54" stroke="#f4f4f4" stroke-width="1.9"/>
<path d="M444.45,118.5 V180.5" stroke="#3f3f3f" stroke-width="2.4"/>
<rect x="440.95" y="136.0" width="7.0" height="23.70" fill="#3f3f3f"/>
<path d="M441.25,146.8 H447.65" stroke="#f4f4f4" stroke-width="1.9"/>
<path d="M500.34,122.4 V176.2" stroke="#3f3f3f" stroke-width="2.4"/>
<rect x="496.84" y="138.1" width="7.0" height="21.40" fill="#3f3f3f"/>
<path d="M497.14,149.5 H503.54" stroke="#f4f4f4" stroke-width="1.9"/>
<path d="M584.34,125.5 V178.0" stroke="#3f3f3f" stroke-width="2.4"/>
<rect x="580.84" y="142.2" width="7.0" height="20.30" fill="#3f3f3f"/>
<path d="M581.14,151.8 H587.54" stroke="#f4f4f4" stroke-width="1.9"/>
<path d="M640.34,127.3 V179.5" stroke="#3f3f3f" stroke-width="2.4"/>
<rect x="636.84" y="141.9" width="7.0" height="20.50" fill="#3f3f3f"/>
<path d="M637.14,153.2 H643.54" stroke="#f4f4f4" stroke-width="1.9"/>
<rect x="603.5" y="277.4" width="69.95" height="76.75" rx="2.8" fill="#ffffff" fill-opacity="0.8" stroke="#d3d3d3" stroke-width="1.5"/>
<text x="638.1" y="296.6" font-size="17.3" text-anchor="middle" fill="#161616" textLength="43" lengthAdjust="spacingAndGlyphs">Block</text>
<rect x="609.6" y="308.9" width="33.7" height="11.5" fill="#477ca6" stroke="#3f3f3f" stroke-width="1.3"/>
<rect x="609.6" y="333.6" width="33.7" height="11.5" fill="#d88332" stroke="#3f3f3f" stroke-width="1.3"/>
<text x="661.8" y="320.6" font-size="17.3" text-anchor="middle" fill="#161616">1</text>
<text x="661.3" y="345.2" font-size="17.3" text-anchor="middle" fill="#161616">2</text>
<text x="0.6" y="491.9" font-size="33.5" fill="#111">B</text>
<rect x="48.6" y="459.5" width="573.7" height="38.7" fill="#4a5972"/>
<rect x="431.2" y="498.2" width="191.1" height="229.3" fill="#e3ebf5"/>
<text x="335.4" y="482.1" font-size="13.2" font-weight="bold" text-anchor="middle" fill="#ffffff">Block-wise Segregation Statistics</text>
<path d="M48.6,459.5 H622.3 V727.5 H48.6 Z M48.6,498.2 H622.3 M48.6,574.5 H622.3 M192.2,536.3 H383.4 M431.2,536.3 H622.3 M96.6,498.2 V727.5 M192.2,498.2 V727.5 M383.4,498.2 V727.5 M431.2,498.2 V727.5" fill="none" stroke="#262626" stroke-width="1.4"/>
<text x="72.6" y="558.5" font-size="10.5" text-anchor="middle" fill="#262626">Index</text>
<text x="144.4" y="558.5" font-size="10.5" text-anchor="middle" fill="#262626">Abbreviation</text>
<text x="287.8" y="520.4" font-size="10.5" font-weight="bold" text-anchor="middle" fill="#262626">Brain Networks / ROIs</text>
<text x="526.5" y="520.4" font-size="10.5" font-weight="bold" text-anchor="middle" fill="#262626">Youth Blocks (Communities)</text>
<text x="240.0" y="551.9" font-size="10.5" text-anchor="middle" fill="#262626">First Brain</text>
<text x="240.0" y="565.2" font-size="10.5" text-anchor="middle" fill="#262626">Network / ROI</text>
<text x="335.3" y="551.9" font-size="10.5" text-anchor="middle" fill="#262626">Second Brain</text>
<text x="335.3" y="565.2" font-size="10.5" text-anchor="middle" fill="#262626">Network / ROI</text>
<text x="478.5" y="558.3" font-size="10.5" text-anchor="middle" fill="#262626">Block 1</text>
<text x="574.5" y="558.3" font-size="10.5" text-anchor="middle" fill="#262626">Block 2</text>
<text x="72.6" y="596.8" font-size="10.5" text-anchor="middle" fill="#262626">1</text>
<text x="144.4" y="596.8" font-size="10.5" text-anchor="middle" fill="#262626">SAL</text>
<text x="240.0" y="596.8" font-size="10.5" text-anchor="middle" fill="#262626">Salience Network</text>
<text x="335.3" y="596.8" font-size="10.5" text-anchor="middle" fill="#262626">All Other ROIs</text>
<text x="478.5" y="596.8" font-size="10.5" text-anchor="middle" fill="#262626">0.59 (0.16)</text>
<text x="574.5" y="596.8" font-size="10.5" text-anchor="middle" fill="#262626">0.57 (0.16)</text>
<text x="72.6" y="635.1" font-size="10.5" text-anchor="middle" fill="#262626">2</text>
<text x="144.4" y="635.1" font-size="10.5" text-anchor="middle" fill="#262626">DMN</text>
<text x="240.0" y="628.8" font-size="10.5" text-anchor="middle" fill="#262626">Default Mode</text>
<text x="240.0" y="641.4" font-size="10.5" text-anchor="middle" fill="#262626">Network</text>
<text x="335.3" y="635.1" font-size="10.5" text-anchor="middle" fill="#262626">All Other ROIs</text>
<text x="478.5" y="635.1" font-size="10.5" text-anchor="middle" fill="#262626">0.54 (0.08)</text>
<text x="574.5" y="635.1" font-size="10.5" text-anchor="middle" fill="#262626">0.55 (0.08)</text>
<text x="72.6" y="673.4" font-size="10.5" text-anchor="middle" fill="#262626">3</text>
<text x="144.4" y="673.4" font-size="10.5" text-anchor="middle" fill="#262626">FPN</text>
<text x="240.0" y="667.1" font-size="10.5" text-anchor="middle" fill="#262626">Frontoparietal</text>
<text x="240.0" y="679.7" font-size="10.5" text-anchor="middle" fill="#262626">Network</text>
<text x="335.3" y="673.4" font-size="10.5" text-anchor="middle" fill="#262626">All Other ROIs</text>
<text x="478.5" y="673.4" font-size="10.5" text-anchor="middle" fill="#262626">0.55 (0.09)</text>
<text x="574.5" y="673.4" font-size="10.5" text-anchor="middle" fill="#262626">0.54 (0.09)</text>
<text x="72.6" y="711.7" font-size="10.5" text-anchor="middle" fill="#262626">4</text>
<text x="144.4" y="711.7" font-size="10.5" text-anchor="middle" fill="#262626">DAN</text>
<text x="240.0" y="705.4" font-size="10.5" text-anchor="middle" fill="#262626">Dorsal Attention</text>
<text x="240.0" y="718.0" font-size="10.5" text-anchor="middle" fill="#262626">Network</text>
<text x="335.3" y="711.7" font-size="10.5" text-anchor="middle" fill="#262626">All Other ROIs</text>
<text x="478.5" y="711.7" font-size="10.5" text-anchor="middle" fill="#262626">0.52 (0.07)</text>
<text x="574.5" y="711.7" font-size="10.5" text-anchor="middle" fill="#262626">0.52 (0.08)</text>
<text x="0" y="0" font-size="10.5" text-anchor="middle" fill="#262626" transform="translate(411.2,651) rotate(-90)">Mean (S.D.)</text>
<text x="0.4" y="793" font-size="33.5" fill="#111">C</text>
<text x="0" y="0" font-size="13.2" font-weight="bold" text-anchor="middle" fill="#262626" transform="translate(60.1,861.1) rotate(-90)">Post Hoc Results (BH-Adj. <tspan font-style="italic">p</tspan>) for</text>
<text x="0" y="0" font-size="13.2" font-weight="bold" text-anchor="middle" fill="#262626" transform="translate(76.0,861.1) rotate(-90)">One Way ANOVAs Comparing</text>
<text x="0" y="0" font-size="13.2" font-weight="bold" text-anchor="middle" fill="#262626" transform="translate(91.9,861.1) rotate(-90)">Segregation Measures</text>
<rect x="110.8" y="784.7" width="95.7" height="19.0" fill="#e3ebf5"/>
<rect x="206.5" y="803.7" width="95.5" height="38.4" fill="#e6e6e4"/>
<rect x="302.0" y="822.9" width="95.6" height="19.2" fill="#e3ebf5"/>
<rect x="397.6" y="822.9" width="95.8" height="19.2" fill="#e3ebf5"/>
<rect x="493.4" y="822.9" width="95.2" height="19.2" fill="#e3ebf5"/>
<rect x="206.5" y="861.2" width="95.5" height="19.1" fill="#e3ebf5"/>
<rect x="302.0" y="842.1" width="95.6" height="38.3" fill="#e6e6e4"/>
<rect x="397.6" y="861.2" width="95.8" height="19.1" fill="#e3ebf5"/>
<rect x="493.4" y="861.2" width="95.2" height="19.1" fill="#e3ebf5"/>
<rect x="206.5" y="899.5" width="95.5" height="19.1" fill="#e3ebf5"/>
<rect x="302.0" y="899.5" width="95.6" height="19.1" fill="#e3ebf5"/>
<rect x="397.6" y="880.4" width="95.8" height="38.2" fill="#e6e6e4"/>
<rect x="493.4" y="899.5" width="95.2" height="19.1" fill="#e3ebf5"/>
<rect x="206.5" y="937.5" width="95.5" height="19.0" fill="#e3ebf5"/>
<rect x="302.0" y="937.5" width="95.6" height="19.0" fill="#e3ebf5"/>
<rect x="397.6" y="937.5" width="95.8" height="19.0" fill="#e3ebf5"/>
<rect x="493.4" y="918.6" width="95.2" height="37.9" fill="#e6e6e4"/>
<path d="M110.8,765.5 H588.6 V956.5 H110.8 Z M110.8,784.7 H206.5 M110.8,803.7 H588.6 M110.8,842.1 H588.6 M110.8,880.4 H588.6 M110.8,918.6 H588.6 M206.5,765.5 V956.5 M302.0,765.5 V956.5 M397.6,765.5 V956.5 M493.4,765.5 V956.5" fill="none" stroke="#262626" stroke-width="1.4"/>
<text x="158.7" y="777.7" font-size="10.5" text-anchor="middle" fill="#262626">Block 2</text>
<text x="158.7" y="796.9" font-size="10.5" text-anchor="middle" fill="#262626">Block 1</text>
<text x="254.2" y="787.7" font-size="10.5" text-anchor="middle" fill="#262626">SAL</text>
<text x="349.8" y="787.7" font-size="10.5" text-anchor="middle" fill="#262626">DMN</text>
<text x="445.5" y="787.7" font-size="10.5" text-anchor="middle" fill="#262626">FPN</text>
<text x="541.0" y="787.7" font-size="10.5" text-anchor="middle" fill="#262626">DAN</text>
<text x="158.7" y="825.9" font-size="10.5" text-anchor="middle" fill="#262626">SAL</text>
<text x="349.8" y="817.9" font-size="10.5" text-anchor="middle" fill="#262626">2.79 × 10<tspan font-size="7" dy="-3.5">-1</tspan></text>
<text x="349.8" y="836.8" font-size="10.5" font-weight="bold" font-style="italic" text-anchor="middle" fill="#1a1a1a">5.92 × 10<tspan font-size="7" dy="-3.5">-8</tspan></text>
<text x="445.5" y="817.9" font-size="10.5" text-anchor="middle" fill="#262626">6.76 × 10<tspan font-size="7" dy="-3.5">-2</tspan></text>
<text x="445.5" y="836.8" font-size="10.5" font-weight="bold" font-style="italic" text-anchor="middle" fill="#1a1a1a">9.49 × 10<tspan font-size="7" dy="-3.5">-7</tspan></text>
<text x="541.0" y="817.9" font-size="10.5" font-weight="bold" font-style="italic" text-anchor="middle" fill="#1a1a1a">3.42 × 10<tspan font-size="7" dy="-3.5">-5</tspan></text>
<text x="541.0" y="836.8" font-size="10.5" font-weight="bold" font-style="italic" text-anchor="middle" fill="#1a1a1a">0.00</text>
<text x="158.7" y="864.2" font-size="10.5" text-anchor="middle" fill="#262626">DMN</text>
<text x="254.2" y="856.3" font-size="10.5" text-anchor="middle" fill="#262626">2.79 × 10<tspan font-size="7" dy="-3.5">-1</tspan></text>
<text x="254.2" y="875.1" font-size="10.5" font-weight="bold" font-style="italic" text-anchor="middle" fill="#1a1a1a">5.92 × 10<tspan font-size="7" dy="-3.5">-8</tspan></text>
<text x="445.5" y="856.3" font-size="10.5" text-anchor="middle" fill="#262626">1.00</text>
<text x="445.5" y="875.1" font-size="10.5" text-anchor="middle" fill="#262626">1.00</text>
<text x="541.0" y="856.3" font-size="10.5" font-weight="bold" font-style="italic" text-anchor="middle" fill="#1a1a1a">4.96 × 10<tspan font-size="7" dy="-3.5">-2</tspan></text>
<text x="541.0" y="875.1" font-size="10.5" font-weight="bold" font-style="italic" text-anchor="middle" fill="#1a1a1a">1.19 × 10<tspan font-size="7" dy="-3.5">-2</tspan></text>
<text x="158.7" y="902.5" font-size="10.5" text-anchor="middle" fill="#262626">FPN</text>
<text x="254.2" y="894.6" font-size="10.5" text-anchor="middle" fill="#262626">6.76 × 10<tspan font-size="7" dy="-3.5">-2</tspan></text>
<text x="254.2" y="913.3" font-size="10.5" font-weight="bold" font-style="italic" text-anchor="middle" fill="#1a1a1a">9.49 × 10<tspan font-size="7" dy="-3.5">-7</tspan></text>
<text x="349.8" y="894.6" font-size="10.5" text-anchor="middle" fill="#262626">1.00</text>
<text x="349.8" y="913.3" font-size="10.5" text-anchor="middle" fill="#262626">1.00</text>
<text x="541.0" y="894.6" font-size="10.5" text-anchor="middle" fill="#262626">1.88 × 10<tspan font-size="7" dy="-3.5">-1</tspan></text>
<text x="541.0" y="913.3" font-size="10.5" font-weight="bold" font-style="italic" text-anchor="middle" fill="#1a1a1a">1.80 × 10<tspan font-size="7" dy="-3.5">-3</tspan></text>
<text x="158.7" y="940.5" font-size="10.5" text-anchor="middle" fill="#262626">DAN</text>
<text x="254.2" y="932.7" font-size="10.5" font-weight="bold" font-style="italic" text-anchor="middle" fill="#1a1a1a">3.42 × 10<tspan font-size="7" dy="-3.5">-5</tspan></text>
<text x="254.2" y="951.3" font-size="10.5" font-weight="bold" font-style="italic" text-anchor="middle" fill="#1a1a1a">0.00</text>
<text x="349.8" y="932.7" font-size="10.5" font-weight="bold" font-style="italic" text-anchor="middle" fill="#1a1a1a">4.96 × 10<tspan font-size="7" dy="-3.5">-2</tspan></text>
<text x="349.8" y="951.3" font-size="10.5" font-weight="bold" font-style="italic" text-anchor="middle" fill="#1a1a1a">1.19 × 10<tspan font-size="7" dy="-3.5">-2</tspan></text>
<text x="445.5" y="932.7" font-size="10.5" text-anchor="middle" fill="#262626">1.88 × 10<tspan font-size="7" dy="-3.5">-1</tspan></text>
<text x="445.5" y="951.3" font-size="10.5" font-weight="bold" font-style="italic" text-anchor="middle" fill="#1a1a1a">1.80 × 10<tspan font-size="7" dy="-3.5">-3</tspan></text>
</svg>
</body></html>
